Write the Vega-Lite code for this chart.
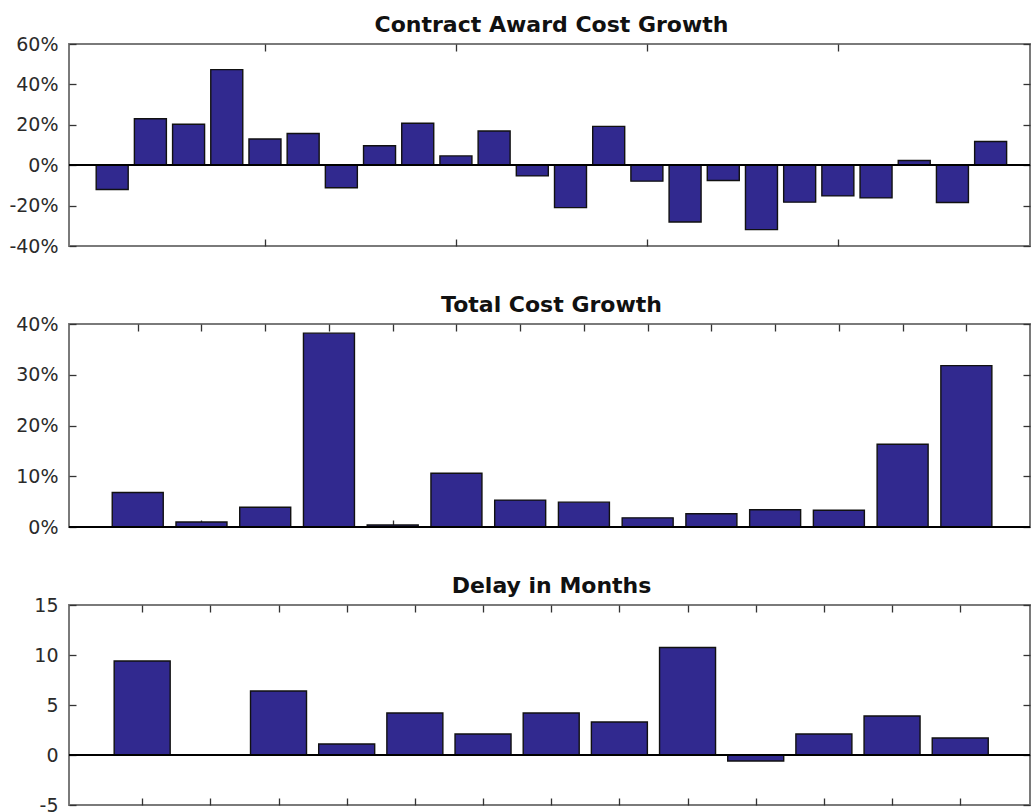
{
  "$schema": "https://vega.github.io/schema/vega-lite/v6.json",
  "padding": {"left": 7, "top": 13, "right": 0, "bottom": 0},
  "background": "white",
  "config": {
    "view": {"stroke": "#7a7a7a", "strokeWidth": 2},
    "concat": {"spacing": 36},
    "axis": {"domain": false, "grid": false, "tickSize": -7, "tickColor": "#333333", "tickWidth": 1.3, "labelFont": "DejaVu Sans", "labelFontSize": 19, "labelColor": "#2a2a2a", "labelPadding": 18},
    "title": {"font": "DejaVu Sans", "fontSize": 22, "fontWeight": "bold", "color": "#111111", "anchor": "middle", "offset": -2, "dx": 2}
  },
  "datasets": {
    "contract": [
      {"i": 1, "v": -12}, {"i": 2, "v": 23}, {"i": 3, "v": 20.3}, {"i": 4, "v": 47.3},
      {"i": 5, "v": 13}, {"i": 6, "v": 15.7}, {"i": 7, "v": -11.2}, {"i": 8, "v": 9.6},
      {"i": 9, "v": 20.8}, {"i": 10, "v": 4.6}, {"i": 11, "v": 16.9}, {"i": 12, "v": -5.3},
      {"i": 13, "v": -21}, {"i": 14, "v": 19.2}, {"i": 15, "v": -7.9}, {"i": 16, "v": -28.1},
      {"i": 17, "v": -7.6}, {"i": 18, "v": -31.9}, {"i": 19, "v": -18.3}, {"i": 20, "v": -15.2},
      {"i": 21, "v": -16.2}, {"i": 22, "v": 2.3}, {"i": 23, "v": -18.5}, {"i": 24, "v": 11.7}
    ],
    "total": [
      {"i": 1, "v": 6.8}, {"i": 2, "v": 1.0}, {"i": 3, "v": 3.9}, {"i": 4, "v": 38.2},
      {"i": 5, "v": 0.4}, {"i": 6, "v": 10.6}, {"i": 7, "v": 5.3}, {"i": 8, "v": 4.9},
      {"i": 9, "v": 1.8}, {"i": 10, "v": 2.6}, {"i": 11, "v": 3.4}, {"i": 12, "v": 3.3},
      {"i": 13, "v": 16.3}, {"i": 14, "v": 31.8}
    ],
    "delay": [
      {"i": 1, "v": 9.4}, {"i": 2, "v": 0}, {"i": 3, "v": 6.4}, {"i": 4, "v": 1.1},
      {"i": 5, "v": 4.2}, {"i": 6, "v": 2.1}, {"i": 7, "v": 4.2}, {"i": 8, "v": 3.3},
      {"i": 9, "v": 10.75}, {"i": 10, "v": -0.6}, {"i": 11, "v": 2.1}, {"i": 12, "v": 3.9},
      {"i": 13, "v": 1.7}
    ]
  },
  "vconcat": [
    {
      "width": 961, "height": 202,
      "title": "Contract Award Cost Growth",
      "data": {"name": "contract"},
      "layer": [
        {
          "mark": {"type": "bar", "width": 32, "color": "#31298f", "stroke": "#111111", "strokeWidth": 1.4},
          "encoding": {
            "x": {"field": "i", "type": "quantitative", "scale": {"domain": [0, 24.9], "nice": false, "zero": false},
                  "axis": {"orient": "bottom", "title": null, "labels": false, "values": [5, 10, 15, 20]}},
            "y": {"field": "v", "type": "quantitative", "scale": {"domain": [-40, 60], "nice": false},
                  "axis": {"orient": "left", "title": null, "values": [-40, -20, 0, 20, 40, 60], "labelExpr": "datum.value + '%'"}}
          }
        },
        {
          "mark": {"type": "point", "opacity": 0},
          "encoding": {
            "x": {"field": "i", "type": "quantitative", "axis": {"orient": "top", "title": null, "labels": false, "values": [5, 10, 15, 20]}},
            "y": {"field": "v", "type": "quantitative", "axis": {"orient": "right", "title": null, "labels": false, "values": [-40, -20, 0, 20, 40, 60]}}
          }
        },
        {
          "mark": {"type": "rule", "color": "#000000", "strokeWidth": 1.6},
          "encoding": {"y": {"datum": 0, "axis": null}}
        }
      ]
    },
    {
      "width": 961, "height": 203,
      "title": "Total Cost Growth",
      "data": {"name": "total"},
      "layer": [
        {
          "mark": {"type": "bar", "width": 51, "color": "#31298f", "stroke": "#111111", "strokeWidth": 1.4},
          "encoding": {
            "x": {"field": "i", "type": "quantitative", "scale": {"domain": [0, 14.92], "nice": false, "zero": false},
                  "axis": {"orient": "bottom", "title": null, "labels": false, "values": [1, 2, 3, 4, 5, 6, 7, 8, 9, 10, 11, 12, 13, 14]}},
            "y": {"field": "v", "type": "quantitative", "scale": {"domain": [0, 40], "nice": false},
                  "axis": {"orient": "left", "title": null, "values": [0, 10, 20, 30, 40], "labelExpr": "datum.value + '%'"}}
          }
        },
        {
          "mark": {"type": "point", "opacity": 0},
          "encoding": {
            "x": {"field": "i", "type": "quantitative", "axis": {"orient": "top", "title": null, "labels": false, "values": [1, 2, 3, 4, 5, 6, 7, 8, 9, 10, 11, 12, 13, 14]}},
            "y": {"field": "v", "type": "quantitative", "axis": {"orient": "right", "title": null, "labels": false, "values": [0, 10, 20, 30, 40]}}
          }
        },
        {
          "mark": {"type": "rule", "color": "#000000", "strokeWidth": 1.6},
          "encoding": {"y": {"datum": 0, "axis": null}}
        }
      ]
    },
    {
      "width": 961, "height": 200,
      "title": "Delay in Months",
      "data": {"name": "delay"},
      "layer": [
        {
          "mark": {"type": "bar", "width": 56, "color": "#31298f", "stroke": "#111111", "strokeWidth": 1.4},
          "encoding": {
            "x": {"field": "i", "type": "quantitative", "scale": {"domain": [0, 13.95], "nice": false, "zero": false},
                  "axis": {"orient": "bottom", "title": null, "labels": false, "values": [1, 2, 3, 4, 5, 6, 7, 8, 9, 10, 11, 12, 13]}},
            "y": {"field": "v", "type": "quantitative", "scale": {"domain": [-5, 15], "nice": false},
                  "axis": {"orient": "left", "title": null, "values": [-5, 0, 5, 10, 15], "labelExpr": "'' + datum.value"}}
          }
        },
        {
          "mark": {"type": "point", "opacity": 0},
          "encoding": {
            "x": {"field": "i", "type": "quantitative", "axis": {"orient": "top", "title": null, "labels": false, "values": [1, 2, 3, 4, 5, 6, 7, 8, 9, 10, 11, 12, 13]}},
            "y": {"field": "v", "type": "quantitative", "axis": {"orient": "right", "title": null, "labels": false, "values": [-5, 0, 5, 10, 15]}}
          }
        },
        {
          "mark": {"type": "rule", "color": "#000000", "strokeWidth": 1.6},
          "encoding": {"y": {"datum": 0, "axis": null}}
        }
      ]
    }
  ]
}
